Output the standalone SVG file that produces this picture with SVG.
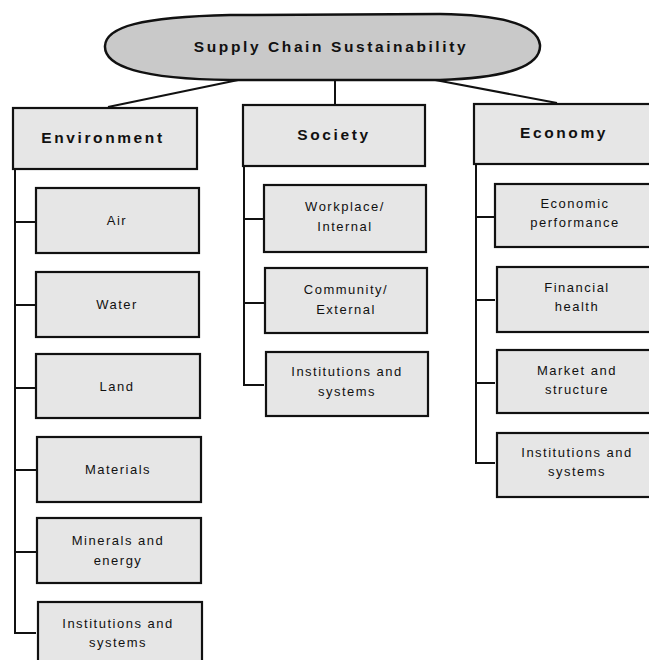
<svg xmlns="http://www.w3.org/2000/svg" width="649" height="660" viewBox="0 0 649 660">
<style>
.box{fill:#e6e6e6;stroke:#111;stroke-width:2.2}
.hdr{font-family:"Liberation Sans",Arial,sans-serif;font-weight:bold;font-size:15.5px;letter-spacing:2.6px;fill:#111;text-anchor:middle}
.lbl{font-family:"Liberation Sans",Arial,sans-serif;font-size:13px;letter-spacing:1.5px;fill:#111;text-anchor:middle}
.ttl{font-family:"Liberation Sans",Arial,sans-serif;font-weight:bold;font-size:15.5px;letter-spacing:2.6px;fill:#111;text-anchor:middle}
.con{fill:none;stroke:#111;stroke-width:2}
</style>
<rect width="649" height="660" fill="#fff"/>
<g id="connectors">
<line class="con" x1="243" y1="79" x2="108" y2="107"/>
<line class="con" x1="335" y1="80" x2="335" y2="105"/>
<line class="con" x1="430" y1="79" x2="557" y2="103"/>
<polyline class="con" points="15,169 15,633 36,633"/>
<line class="con" x1="15" y1="222" x2="36" y2="222"/>
<line class="con" x1="15" y1="305" x2="36" y2="305"/>
<line class="con" x1="15" y1="388" x2="36" y2="388"/>
<line class="con" x1="15" y1="470" x2="36" y2="470"/>
<line class="con" x1="15" y1="552" x2="36" y2="552"/>
<polyline class="con" points="244,166 244,385 264,385"/>
<line class="con" x1="244" y1="219" x2="264" y2="219"/>
<line class="con" x1="244" y1="303" x2="264" y2="303"/>
<polyline class="con" points="476,164 476,463 495,463"/>
<line class="con" x1="476" y1="217" x2="495" y2="217"/>
<line class="con" x1="476" y1="300" x2="495" y2="300"/>
<line class="con" x1="476" y1="383" x2="495" y2="383"/>
</g>
<g id="root">
<path d="M105,46 C106,27 140,17 230,15 L440,14 C510,15 538,27 540,45 C541,65 510,78 440,80 L230,80 C140,79 104,66 105,46 Z" fill="#c9c9c9" stroke="#111" stroke-width="2.5"/>
<text class="ttl" x="331" y="52">Supply Chain Sustainability</text>
</g>
<g id="environment"><rect class="box" x="13" y="108" width="184" height="61"/><text class="hdr" x="103" y="143">Environment</text></g>
<g id="env-air"><rect class="box" x="36" y="188" width="163" height="65"/><text class="lbl" x="117" y="225">Air</text></g>
<g id="env-water"><rect class="box" x="36" y="272" width="163" height="65"/><text class="lbl" x="117" y="309">Water</text></g>
<g id="env-land"><rect class="box" x="36" y="354" width="164" height="64"/><text class="lbl" x="117" y="391">Land</text></g>
<g id="env-materials"><rect class="box" x="37" y="437" width="164" height="65"/><text class="lbl" x="118" y="474">Materials</text></g>
<g id="env-minerals"><rect class="box" x="37" y="518" width="164" height="65"/><text class="lbl" x="118" y="545">Minerals and</text><text class="lbl" x="118" y="565">energy</text></g>
<g id="env-institutions"><rect class="box" x="38" y="602" width="164" height="66"/><text class="lbl" x="118" y="628">Institutions and</text><text class="lbl" x="118" y="647">systems</text></g>
<g id="society"><rect class="box" x="243" y="105" width="182" height="61"/><text class="hdr" x="334" y="140">Society</text></g>
<g id="soc-workplace"><rect class="box" x="264" y="185" width="162" height="67"/><text class="lbl" x="345" y="211">Workplace/</text><text class="lbl" x="345" y="231">Internal</text></g>
<g id="soc-community"><rect class="box" x="265" y="268" width="162" height="65"/><text class="lbl" x="346" y="294">Community/</text><text class="lbl" x="346" y="314">External</text></g>
<g id="soc-institutions"><rect class="box" x="266" y="352" width="162" height="64"/><text class="lbl" x="347" y="376">Institutions and</text><text class="lbl" x="347" y="396">systems</text></g>
<g id="economy"><rect class="box" x="474" y="104" width="182" height="60"/><text class="hdr" x="564" y="138">Economy</text></g>
<g id="eco-performance"><rect class="box" x="495" y="184" width="162" height="63"/><text class="lbl" x="575" y="208">Economic</text><text class="lbl" x="575" y="227">performance</text></g>
<g id="eco-financial"><rect class="box" x="497" y="267" width="160" height="65"/><text class="lbl" x="577" y="292">Financial</text><text class="lbl" x="577" y="311">health</text></g>
<g id="eco-market"><rect class="box" x="497" y="350" width="160" height="63"/><text class="lbl" x="577" y="375">Market and</text><text class="lbl" x="577" y="394">structure</text></g>
<g id="eco-institutions"><rect class="box" x="497" y="433" width="160" height="64"/><text class="lbl" x="577" y="457">Institutions and</text><text class="lbl" x="577" y="476">systems</text></g>
</svg>
